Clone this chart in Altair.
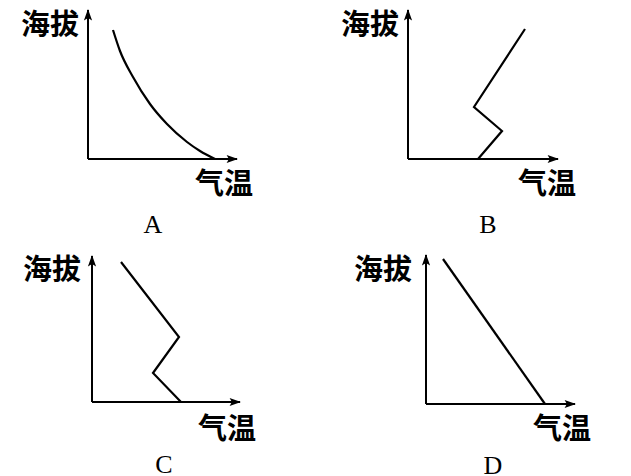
import altair as alt
import pandas as pd

# ---- data (arbitrary units; origin = axis crossing) ----
panel_names = ["A", "B", "C", "D"]

temp_A = [25, 32, 45, 62, 79, 99, 112, 127]
alt_A = [129, 108, 82, 55, 35, 17, 8, 0]

temp_B = [70, 94, 66, 117]
alt_B = [0, 28, 52, 130]

temp_C = [89, 61, 87, 29]
alt_C = [0, 29, 65, 140]

temp_D = [119, 17]
alt_D = [0, 145]

# axis arrow lengths (x, y) for each panel
axis_len_x = [149, 150, 148, 149]
axis_len_y = [149, 149, 146, 149]

y_label = "海拔"
x_label = "气温"

# label anchors (local units)
ylab_pos = [(-38, 133), (-38, 133), (-40, 131), (-43, 133)]
xlab_pos = [(136, -26), (139, -26), (135, -28), (136, -26)]
letter_pos = [(65, -66), (80, -66), (72, -63), (67, -62)]

# panel windows (local domains)
x_domains = [[-80, 230], [-90, 210], [-84, 226], [-108, 192]]
y_domains = [[-84, 148], [-84, 148], [-77, 159], [-75, 161]]
widths = [310, 300, 310, 300]
heights = [232, 232, 236, 236]

profiles = [(temp_A, alt_A, "monotone"), (temp_B, alt_B, "linear"),
            (temp_C, alt_C, "linear"), (temp_D, alt_D, "linear")]

ARROW = "M0,0L-0.36,1L0,0.8L0.36,1Z"
CJK = "Noto Sans CJK SC"


def panel(i):
    xs = alt.Scale(domain=x_domains[i], nice=False, zero=False)
    ys = alt.Scale(domain=y_domains[i], nice=False, zero=False)
    X = lambda f: alt.X(f, type="quantitative", scale=xs, axis=None)
    Y = lambda f: alt.Y(f, type="quantitative", scale=ys, axis=None)

    lx, ly = axis_len_x[i], axis_len_y[i]
    axes = pd.DataFrame({"x": [0, 0], "y": [0, 0], "x2": [lx, 0], "y2": [0, ly]})
    rules = alt.Chart(axes).mark_rule(color="black", strokeWidth=2).encode(
        x=X("x"), y=Y("y"), x2="x2", y2="y2")

    heads = pd.DataFrame({"x": [lx + 1, 0], "y": [0, ly + 1], "a": [90, 0]})
    arrows = alt.Chart(heads).mark_point(
        shape=ARROW, filled=True, color="black", opacity=1, size=520, strokeWidth=0
    ).encode(x=X("x"), y=Y("y"), angle=alt.Angle("a:Q", scale=None))

    t, a, interp = profiles[i]
    prof = pd.DataFrame({"t": t, "h": a, "o": list(range(len(t)))})
    line = alt.Chart(prof).mark_line(color="black", strokeWidth=2.2, interpolate=interp).encode(
        x=X("t"), y=Y("h"), order="o:Q")

    labs = pd.DataFrame({
        "x": [ylab_pos[i][0], xlab_pos[i][0]],
        "y": [ylab_pos[i][1], xlab_pos[i][1]],
        "s": [y_label, x_label],
    })
    cjk = alt.Chart(labs).mark_text(
        font=CJK, fontSize=29, fontWeight="bold", color="black", baseline="middle", align="center"
    ).encode(x=X("x"), y=Y("y"), text="s:N")

    let = pd.DataFrame({"x": [letter_pos[i][0]], "y": [letter_pos[i][1]], "s": [panel_names[i]]})
    letter = alt.Chart(let).mark_text(
        font="Liberation Serif", fontSize=26, color="black", baseline="middle", align="center"
    ).encode(x=X("x"), y=Y("y"), text="s:N")

    return alt.layer(rules, line, arrows, cjk, letter).properties(
        width=widths[i], height=heights[i])


chart = alt.concat(
    panel(0), panel(1), panel(2), panel(3), columns=2, spacing=0, bounds="flush"
).properties(padding=0, background="white").configure_view(strokeWidth=0)

chart.save("out.html", embed_options={"renderer": "svg", "actions": False})
